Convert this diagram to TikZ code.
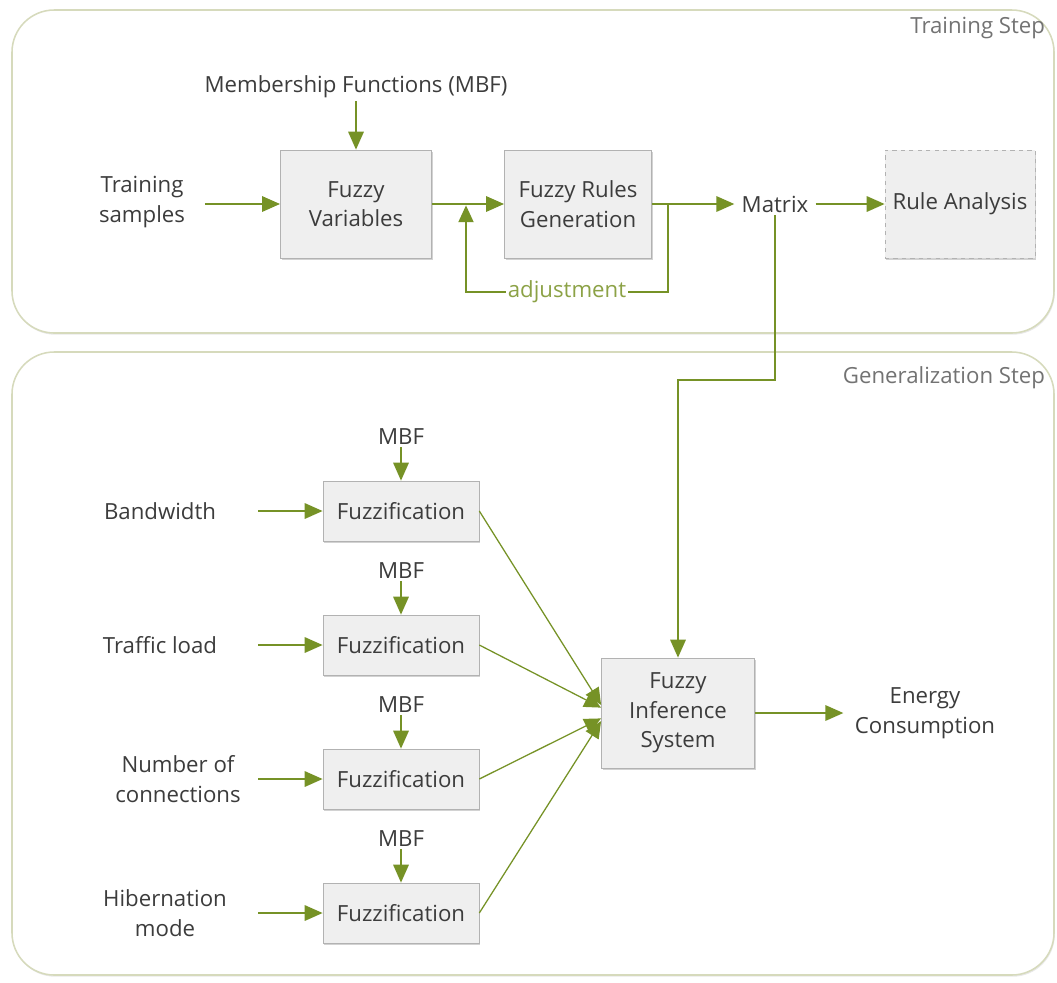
\documentclass[tikz,border=0pt]{standalone}
\usepackage{fontspec}
\setmainfont{Open Sans}
\usetikzlibrary{arrows.meta,shadows}

\definecolor{olive}{RGB}{118,146,38}
\definecolor{oliveText}{RGB}{140,162,70}
\definecolor{frameCol}{RGB}{214,218,188}
\definecolor{boxFill}{RGB}{239,239,239}
\definecolor{boxLine}{RGB}{178,178,178}
\definecolor{textCol}{RGB}{60,60,60}

\begin{document}
\begin{tikzpicture}[
    x=0.025cm,
    y=-0.025cm,
    font=\fontsize{15.8}{21}\selectfont,
    every node/.style={text=textCol},
    panel/.style={
        draw=frameCol,
        line width=1.1pt,
        rounded corners=30,
        drop shadow={opacity=0.18, shadow xshift=0.6pt, shadow yshift=-1.2pt}
    },
    steplabel/.style={
        text=black!55,
        anchor=east
    },
    block/.style={
        draw=boxLine,
        fill=boxFill,
        align=center,
        inner sep=0pt,
        drop shadow={opacity=0.35, shadow xshift=1pt, shadow yshift=-1.5pt}
    },
    textline/.style={
        align=center,
        inner sep=2pt
    },
    flow/.style={
        draw=olive,
        line width=1.8pt,
        -{Triangle[length=0.45cm, width=0.38cm]}
    },
    thinflow/.style={
        draw=olive,
        line width=0.9pt,
        -{Triangle[length=0.42cm, width=0.38cm]}
    }
]

\useasboundingbox (0,0) rectangle (1057,982);

% Horizontal positions
\def\FuzX{401}
\def\InX{160}

% ==================================================
% Panels
% ==================================================

\draw[panel, fill=white] (12,10) rectangle (1054,333);
\draw[panel, fill=white] (12,352) rectangle (1054,975);

\node[steplabel] (trainstep) at (1050,28)
    {Training Step};

\node[steplabel] (genstep) at (1050,378)
    {Generalization Step};

% ==================================================
% Training step
% ==================================================

\node[textline] (mbf) at (356,87)
    {Membership Functions (MBF)};

\node[textline] (samples) at (142,202)
    {Training\\samples};

\node[block, minimum width=3.78cm, minimum height=2.7cm] (fuzzvar) at (356,204)
    {Fuzzy\\Variables};

\node[block, minimum width=3.68cm, minimum height=2.7cm] (rulegen) at (578,204)
    {Fuzzy Rules\\Generation};

\node[textline] (matrix) at (775,204)
    {Matrix};

\node[block, dashed, minimum width=3.75cm, minimum height=2.7cm] (analysis) at (960,204)
    {Rule Analysis};

\coordinate (fbout) at (668,204);
\coordinate (fbin) at (466,204);

\draw[flow] (mbf.south) -- (fuzzvar.north);
\draw[flow] ([xshift=12]samples.east |- fuzzvar.west) -- (fuzzvar.west);
\draw[flow] (fuzzvar.east) -- (rulegen.west);
\draw[flow] (rulegen.east) -- ([xshift=-3]matrix.west);
\draw[flow] ([xshift=3]matrix.east) -- (analysis.west);

% Adjustment loop back into the rule generation
\draw[thinflow, shorten >=1pt]
    (fbout)
    -- ++(0,88)
    -| node[pos=0.25, fill=white, inner sep=1pt, text=oliveText] {adjustment}
    (fbin);

% ==================================================
% Generalization step
% ==================================================

\node[block, minimum width=3.83cm, minimum height=2.75cm] (fis) at (678,713)
    {Fuzzy\\Inference\\System};

\node[textline] (energy) at (925,713)
    {Energy\\Consumption};

\coordinate (mturn) at (770,380);

% Matrix feeds the inference system
\draw[flow] (matrix.south) -- (matrix.south |- mturn) -| (fis.north);

\draw[flow] (fis.east) -- ([xshift=-6]energy.west);

% Input 1
\node[textline] (in1) at (\InX,511) {Bandwidth};
\node[textline] (mbf1) at (\FuzX,437) {MBF};
\node[block, minimum width=3.9cm, minimum height=1.5cm] (fuz1) at (\FuzX,511) {Fuzzification};

% Input 2
\node[textline] (in2) at (\InX,645) {Traffic load};
\node[textline] (mbf2) at (\FuzX,571) {MBF};
\node[block, minimum width=3.9cm, minimum height=1.5cm] (fuz2) at (\FuzX,645) {Fuzzification};

% Input 3
\node[textline] (in3) at (\InX+18,779) {Number of\\connections};
\node[textline] (mbf3) at (\FuzX,705) {MBF};
\node[block, minimum width=3.9cm, minimum height=1.5cm] (fuz3) at (\FuzX,779) {Fuzzification};

% Input 4
\node[textline] (in4) at (\InX+5,913) {Hibernation\\mode};
\node[textline] (mbf4) at (\FuzX,839) {MBF};
\node[block, minimum width=3.9cm, minimum height=1.5cm] (fuz4) at (\FuzX,913) {Fuzzification};

\draw[flow] ([yshift=-0.25cm]mbf1.center) -- (fuz1.north);
\draw[flow] ([yshift=-0.25cm]mbf2.center) -- (fuz2.north);
\draw[flow] ([yshift=-0.25cm]mbf3.center) -- (fuz3.north);
\draw[flow] ([yshift=-0.25cm]mbf4.center) -- (fuz4.north);

\draw[flow] (258,511) -- (fuz1.west);
\draw[flow] (258,645) -- (fuz2.west);
\draw[flow] (258,779) -- (fuz3.west);
\draw[flow] (258,913) -- (fuz4.west);

\draw[thinflow] (fuz1.east) -- (fis.174);
\draw[thinflow] (fuz2.east) -- (fis.176);
\draw[thinflow] (fuz3.east) -- (fis.184);
\draw[thinflow] (fuz4.east) -- (fis.186);

\end{tikzpicture}
\end{document}
